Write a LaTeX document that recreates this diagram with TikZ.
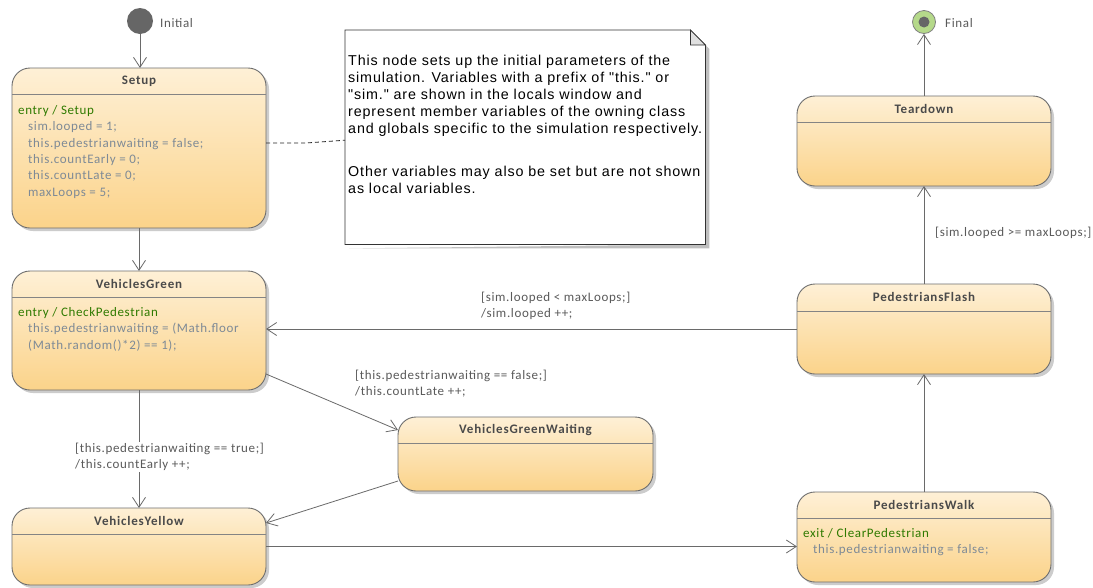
\documentclass[tikz,border=0pt]{standalone}
\usepackage{fontspec}
\setmainfont{Carlito}[LetterSpace=5]
\newfontfamily\notefont{Liberation Sans}[LetterSpace=6]
\newfontfamily\titlefont{Carlito}[LetterSpace=6]
\usetikzlibrary{arrows.meta,shadows}

\definecolor{stborder}{HTML}{6E6E6E}
\definecolor{sttop}{HTML}{FEF0D6}
\definecolor{stbot}{HTML}{FBD38A}
\definecolor{entrygreen}{HTML}{2F7A00}
\definecolor{bodygray}{HTML}{7E8A96}
\definecolor{lblgray}{HTML}{5A5A5A}
\definecolor{titlegray}{HTML}{4A4A4A}
\definecolor{linegray}{HTML}{6A6A6A}
\definecolor{finalgreen}{HTML}{B5D98A}

\tikzset{
  stbox/.style={rectangle, rounded corners=18pt, draw=stborder, line width=0.9pt,
    top color=sttop, bottom color=stbot, inner sep=0pt, outer sep=0pt, anchor=north west,
    drop shadow={shadow xshift=3pt, shadow yshift=-3pt, fill=black!20, opacity=1}},
  sepline/.style={draw=stborder!85, line width=0.9pt},
  sttitle/.style={font=\titlefont\fontsize{13pt}{15pt}\selectfont\bfseries, text=titlegray, inner sep=0pt},
  stbody/.style={font=\fontsize{13pt}{16.4pt}\selectfont, align=left, inner sep=0pt, anchor=north west},
  lbl/.style={font=\fontsize{13pt}{16pt}\selectfont, text=lblgray, align=left, inner sep=1pt, anchor=west},
  conn/.style={draw=linegray, line width=0.8pt, -{Straight Barb[length=10pt,width=13pt,line width=0.8pt]}},
  pseudolbl/.style={font=\fontsize{13pt}{15pt}\selectfont, text=lblgray, inner sep=0pt, anchor=west},
}
\newcommand\stsep[2]{\draw[sepline] ([yshift=-#2]#1.north west) -- ([yshift=-#2]#1.north east);}
\newcommand\ind{\hspace*{10pt}}

\begin{document}
\begin{tikzpicture}[x=1pt,y=-1pt]
\useasboundingbox[fill=white] (0,0) rectangle (1093,587);

% pseudostates
\node[circle, fill=black!60, minimum size=26pt, inner sep=0pt] (init) at (140,21) {};
\node[pseudolbl] (initlbl) at (160,23) {Initial};
\node[circle, fill=finalgreen, draw=black!50, line width=0.8pt, minimum size=23pt, inner sep=0pt] (final) at (924,22) {};
\node[circle, fill=black!60, minimum size=11pt, inner sep=0pt] (finaldot) at (924,22) {};
\node[pseudolbl] (finallbl) at (945,23) {Final};

% states
\node[stbox, minimum width=254pt, minimum height=160pt] (setup) at (12,68) {};
\stsep{setup}{26pt}
\node[sttitle] (setupT) at ([yshift=-13pt]setup.north) {Setup};
\node[stbody] (setupB) at (18,105) {\textcolor{entrygreen}{entry / Setup}\\
  \textcolor{bodygray}{\ind sim.looped = 1;}\\
  \textcolor{bodygray}{\ind this.pedestrianwaiting = false;}\\
  \textcolor{bodygray}{\ind this.countEarly = 0;}\\
  \textcolor{bodygray}{\ind this.countLate = 0;}\\
  \textcolor{bodygray}{\ind maxLoops = 5;}};

\node[stbox, minimum width=254pt, minimum height=119pt] (vg) at (12,271) {};
\stsep{vg}{26pt}
\node[sttitle] (vgT) at ([yshift=-13pt]vg.north) {VehiclesGreen};
\node[stbody] (vgB) at (18,307) {\textcolor{entrygreen}{entry / CheckPedestrian}\\
  \textcolor{bodygray}{\ind this.pedestrianwaiting = (Math.floor}\\
  \textcolor{bodygray}{\ind (Math.random()*2) == 1);}};

\node[stbox, minimum width=254pt, minimum height=77pt] (vy) at (12,508) {};
\stsep{vy}{26pt}
\node[sttitle] (vyT) at ([yshift=-13pt]vy.north) {VehiclesYellow};

\node[stbox, minimum width=255pt, minimum height=74pt] (vgw) at (398,417) {};
\stsep{vgw}{26pt}
\node[sttitle] (vgwT) at ([yshift=-13pt]vgw.north) {VehiclesGreenWaiting};

\node[stbox, minimum width=254pt, minimum height=90pt] (td) at (797,96) {};
\stsep{td}{26pt}
\node[sttitle] (tdT) at ([yshift=-13pt]td.north) {Teardown};

\node[stbox, minimum width=254pt, minimum height=90pt] (pf) at (797,284) {};
\stsep{pf}{27pt}
\node[sttitle] (pfT) at ([yshift=-13pt]pf.north) {PedestriansFlash};

\node[stbox, minimum width=254pt, minimum height=90pt] (pw) at (797,492) {};
\stsep{pw}{26pt}
\node[sttitle] (pwT) at ([yshift=-13pt]pw.north) {PedestriansWalk};
\node[stbody] (pwB) at (803,528) {\textcolor{entrygreen}{exit / ClearPedestrian}\\
  \textcolor{bodygray}{\ind this.pedestrianwaiting = false;}};

% note
\node[rectangle, minimum width=360pt, minimum height=214pt, inner sep=0pt, anchor=north west] (note) at (345,30) {};
\fill[black!25] ([shift={(4pt,-4pt)}]note.south west) -- ([shift={(4pt,-4pt)}]note.south east)
  -- ([shift={(4pt,-19pt)}]note.north east) -- ([yshift=-15pt]note.north east) -- (note.south east) -- cycle;
\filldraw[fill=white, draw=black!80, line width=0.8pt] (note.south west) -- (note.south east)
  -- ([yshift=-15pt]note.north east) -- ([xshift=-15pt]note.north east) -- (note.north west) -- cycle;
\filldraw[fill=black!12, draw=black!80, line width=0.8pt] ([xshift=-15pt]note.north east)
  -- ([xshift=-15pt,yshift=-15pt]note.north east) -- ([yshift=-15pt]note.north east) -- cycle;
\node[font=\notefont\fontsize{14.3pt}{17pt}\selectfont, align=left, inner sep=0pt, anchor=north west] (noteT) at (348,55)
 {This node sets up the initial parameters of the\\
  simulation. Variables with a prefix of "this." or\\
  "sim." are shown in the locals window and\\
  represent member variables of the owning class\\
  and globals specific to the simulation respectively.\\[26pt]
  Other variables may also be set but are not shown\\
  as local variables.};
\draw[black!85, line width=0.8pt, dashed, dash pattern=on 4pt off 3pt] ([yshift=5pt]setup.east) -- ++(40,0) -- ([yshift=-3pt]note.west);

% connectors
\draw[conn] (init.south) -- (init.south |- setup.north);
\draw[conn] (setup.south) -- (vg.north);
\draw[conn] (vg.south) -- (vy.north);
\node[lbl, fill=white] (l1) at (74,457) {[this.pedestrianwaiting == true;]\\/this.countEarly ++;};
\draw[conn] ([yshift=16pt]vg.south east) -- ([yshift=-13pt]vgw.north west);
\node[lbl] (l2) at (354,384) {[this.pedestrianwaiting == false;]\\/this.countLate ++;};
\draw[conn] ([yshift=10pt]vgw.south west) -- ([yshift=-15pt]vy.north east);
\draw[conn] (vy.east) -- (vy.east -| pw.west);
\draw[conn] (pw.north) -- (pf.south);
\draw[conn] (pf.west) -- (pf.west -| vg.east);
\node[lbl] (l3) at (480,306) {[sim.looped < maxLoops;]\\/sim.looped ++;};
\draw[conn] (pf.north) -- (td.south);
\node[lbl] (l4) at (934,233) {[sim.looped >= maxLoops;]};
\draw[conn] (td.north) -- (final.south);
\end{tikzpicture}
\end{document}
